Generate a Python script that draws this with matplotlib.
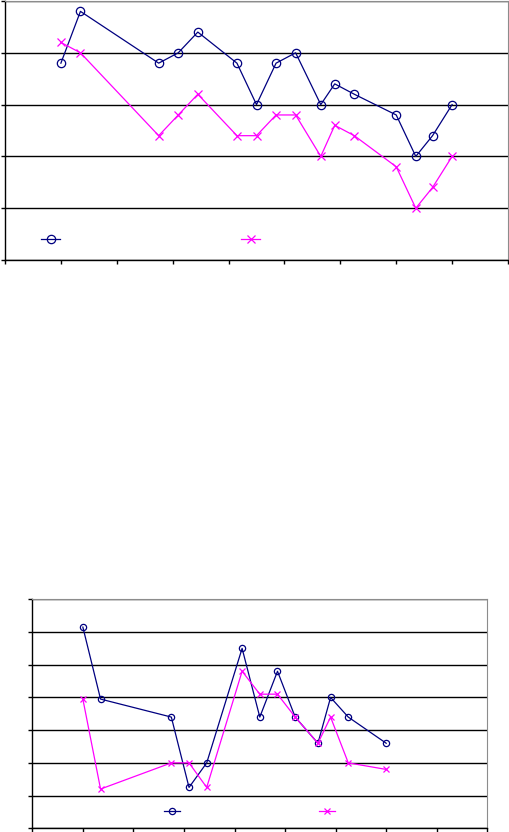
import matplotlib
matplotlib.use("Agg")
import matplotlib.pyplot as plt
from matplotlib.lines import Line2D

# верхний график
x_top = [1.0, 1.35, 2.75, 3.1, 3.45, 4.15, 4.5, 4.85, 5.2, 5.65, 5.9, 6.25, 7.0, 7.35, 7.65, 8.0]
blue_top = [3.8, 4.8, 3.8, 4.0, 4.4, 3.8, 3.0, 3.8, 4.0, 3.0, 3.4, 3.2, 2.8, 2.0, 2.4, 3.0]
pink_top = [4.2, 4.0, 2.4, 2.8, 3.2, 2.4, 2.4, 2.8, 2.8, 2.0, 2.6, 2.4, 1.8, 1.0, 1.4, 2.0]

# нижний график
x_bot = [1.0, 1.35, 2.75, 3.1, 3.45, 4.15, 4.5, 4.85, 5.2, 5.65, 5.9, 6.25, 7.0]
blue_bot = [6.15, 3.95, 3.4, 1.25, 2.0, 5.5, 3.4, 4.8, 3.4, 2.6, 4.0, 3.4, 2.6]
pink_bot = [3.95, 1.2, 2.0, 2.0, 1.25, 4.8, 4.1, 4.1, 3.4, 2.6, 3.4, 2.0, 1.8]

BLUE = "#000080"
PINK = "#FF00FF"
W, H = 509, 832

fig = plt.figure(figsize=(W / 100, H / 100), dpi=100, facecolor="white")


def setup(ax, ymax):
    ax.set_xlim(0, 9)
    ax.set_ylim(0, ymax)
    ax.set_xticks(range(10))
    ax.set_yticks(range(ymax + 1))
    ax.set_xticklabels([])
    ax.set_yticklabels([])
    ax.tick_params(direction="out", length=3, width=1, color="black")
    ax.grid(axis="y", color="black", lw=1)
    ax.set_axisbelow(True)
    for s in ("top", "right"):
        ax.spines[s].set_color("#8c8c8c")
    for s in ("left", "bottom"):
        ax.spines[s].set_color("black")
        ax.spines[s].set_linewidth(1)


def draw(ax, x, b, p, ms, anchor, hl, cs):
    ax.plot(x, b, color=BLUE, lw=0.9, marker="o", ms=ms, mfc="none", mew=0.9)
    ax.plot(x, p, color=PINK, lw=0.9, marker="x", ms=ms, mew=0.9)
    handles = [Line2D([], [], color=BLUE, lw=0.9, marker="o", ms=ms, mfc="none", mew=0.9),
               Line2D([], [], color=PINK, lw=0.9, marker="x", ms=ms, mew=0.9)]
    ax.legend(handles, ["", ""], ncol=2, frameon=False, loc="center left",
              bbox_to_anchor=anchor, borderaxespad=0, borderpad=0,
              handlelength=hl, handletextpad=0, columnspacing=cs, fontsize=10)


ax1 = fig.add_axes([5 / W, (H - 260) / H, 503 / W, 259 / H])
setup(ax1, 5)
draw(ax1, x_top, blue_top, pink_top, 6, (0.0716, 0.077), 1.4, 13.0)

ax2 = fig.add_axes([32.3 / W, (H - 828.3) / H, 455 / W, 229 / H])
setup(ax2, 7)
draw(ax2, x_bot, blue_bot, pink_bot, 4.5, (0.29, 0.07), 1.15, 10.0)

fig.savefig("out.png", dpi=100)
